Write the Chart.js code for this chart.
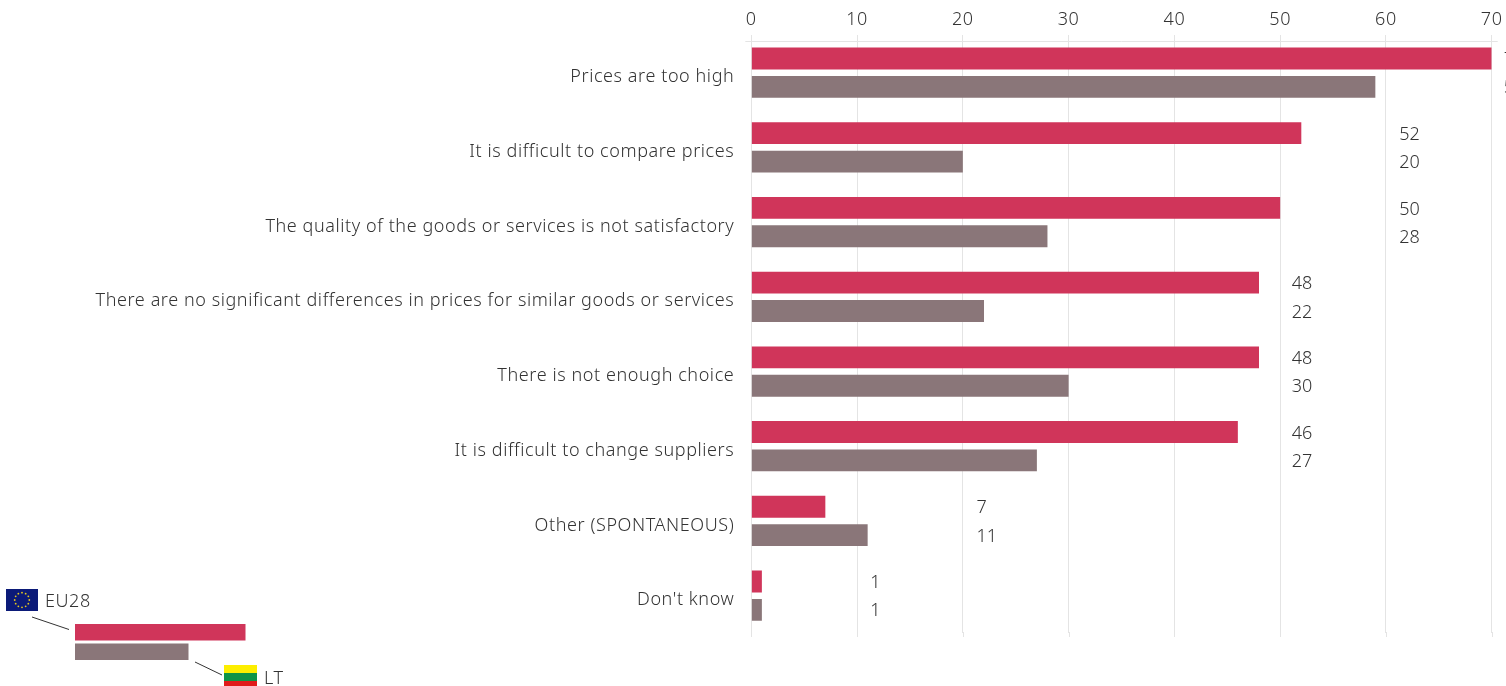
<!DOCTYPE html>
<html><head><meta charset="utf-8">
<style>html,body{margin:0;padding:0;background:#fff}#w{position:absolute;left:0;top:0;width:1506px;height:686px}</style>
<script src="https://cdn.jsdelivr.net/npm/chart.js@4"></script></head>
<body><div id="w"><canvas id="c"></canvas></div>
<script>
const categories = ["Prices are too high","It is difficult to compare prices","The quality of the goods or services is not satisfactory","There are no significant differences in prices for similar goods or services","There is not enough choice","It is difficult to change suppliers","Other (SPONTANEOUS)","Don't know"];
const eu28 = [70,52,50,48,48,46,7,1];
const lt = [59,20,28,22,30,27,11,1];
const labelAnchor = [71.15,61.25,61.25,51.1,51.1,51.1,21.3,11.25];
const xTicks = [0,10,20,30,40,50,60,70];
const RED='#d0355a', GREY='#8a7679', TXT='#333333', GRID='#e4e4e4';
const FONT='"Noto Sans"';
const SP='0.58px';
const deco={id:'deco',
 beforeDraw(ch){ch.ctx.letterSpacing=SP;},
 beforeDatasetsDraw(ch){const c=ch.ctx,s=ch.scales.x;c.save();c.strokeStyle=GRID;c.lineWidth=1;c.beginPath();c.moveTo(s.left-6,41.5);c.lineTo(s.right+6,41.5);
  xTicks.forEach(v=>{const x=Math.round(s.getPixelForValue(v))+0.5;c.moveTo(x,ch.chartArea.bottom-1);c.lineTo(x,ch.chartArea.bottom+4);});c.stroke();c.restore();},
 afterDraw(ch){const c=ch.ctx,sx=ch.scales.x;c.save();
  c.letterSpacing='0px';
  c.font='300 18px '+FONT;c.fillStyle=TXT;c.textBaseline='middle';c.textAlign='left';
  const m0=ch.getDatasetMeta(0).data,m1=ch.getDatasetMeta(1).data;
  categories.forEach((_,i)=>{const x=sx.getPixelForValue(labelAnchor[i]);
   c.fillText(String(eu28[i]),x,m0[i].y+1.5);c.fillText(String(lt[i]),x,m1[i].y+1.5);});
  c.fillStyle=RED;c.fillRect(75,624,170.5,16.5);
  c.fillStyle=GREY;c.fillRect(75,643.5,113.5,16.5);
  c.strokeStyle='#333';c.lineWidth=1;c.beginPath();c.moveTo(32,617);c.lineTo(69,629.5);c.moveTo(195,662);c.lineTo(222,675);c.stroke();
  c.fillStyle='#0b1a78';c.fillRect(6,589,32,22);
  c.fillStyle='#e6c81e';for(let k=0;k<12;k++){const a=k*Math.PI/6;c.beginPath();c.arc(22+7.3*Math.cos(a),600+7.3*Math.sin(a),0.9,0,7);c.fill();}
  c.fillStyle='#fdee00';c.fillRect(224,665,33,8);
  c.fillStyle='#0f9447';c.fillRect(224,673,33,8);
  c.fillStyle='#e01b1b';c.fillRect(224,681,33,5);
  c.letterSpacing=SP;
  c.fillStyle=TXT;c.fillText('EU28',45,602);c.fillText('LT',264,678.5);
  c.restore();}};
Chart.defaults.font.family=FONT;
new Chart(document.getElementById('c'),{type:'bar',plugins:[deco],
 data:{labels:categories,datasets:[
  {label:'EU28',data:eu28,backgroundColor:RED,categoryPercentage:0.76,barPercentage:0.77},
  {label:'LT',data:lt,backgroundColor:GREY,categoryPercentage:0.76,barPercentage:0.77}]},
 options:{indexAxis:'y',responsive:true,maintainAspectRatio:false,animation:false,
  layout:{padding:{left:0,right:14.3,top:0,bottom:53}},
  plugins:{legend:{display:false},tooltip:{enabled:false}},
  scales:{
   x:{position:'top',min:0,max:70,afterBuildTicks(a){a.ticks=xTicks.map(v=>({value:v}));},
      afterFit(a){a.height=35.3;a.paddingRight=0;a.paddingLeft=0;},
      grid:{color:GRID,drawTicks:false},border:{display:false},
      ticks:{padding:5,color:TXT,maxRotation:0,font:{size:18,weight:'300'}}},
   y:{afterFit(a){a.width=751.3;a.paddingTop=0;a.paddingBottom=0;},grid:{display:false},border:{display:false},
      ticks:{autoSkip:false,padding:9,labelOffset:4.5,color:TXT,font:{size:18,weight:'300'}}}
  }}});
</script></body></html>
